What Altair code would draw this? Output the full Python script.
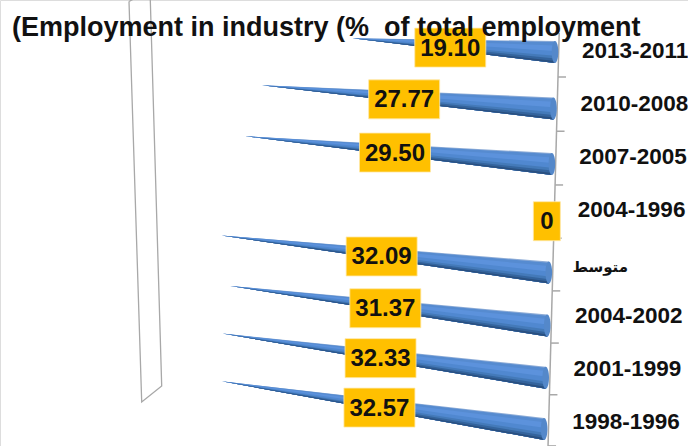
import altair as alt
import pandas as pd

# Employment in industry (% of total employment), by period
TITLE = "(Employment in industry (%\u00a0\u00a0of total employment"
PERIODS = ["2013-2011", "2010-2008", "2007-2005", "2004-1996", "متوسط",
           "2004-2002", "2001-1999", "1998-1996"]
VALUES = [19.10, 27.77, 29.50, 0, 32.09, 31.37, 32.33, 32.57]
LABELS = ["19.10", "27.77", "29.50", "0", "32.09", "31.37", "32.33", "32.57"]

# Shading bands across a cone: where each starts, from top edge to bottom edge
BAND_EDGES = [-1.0, -0.9, -0.6, -0.1, 0.35, 0.6, 0.82]
BAND_COLORS = ["#8cabd6", "#568bd0", "#5c92dc", "#5088d0", "#447ab9", "#34649d", "#2a5080"]

W, H = 688, 446
PX_PER_ROW = 54.0
ORIGIN_X, ORIGIN_Y = 555.0, 52.0
CONE_RADIUS = 11.0
PX_PER_UNIT = 10.3


# The chart is viewed in perspective: each row's base moves left, rows get
# closer together further down and bars fall away more steeply.
def base_x(row):
    return ORIGIN_X - 1.55 * row


def base_y(row):
    return ORIGIN_Y + 56.86 * row - 0.43 * row ** 2


def slope(row):
    return 0.068 + 0.0114 * row


def px_per_value(row):
    return 10.6 - 0.1 * row


def to_x(px):
    return (ORIGIN_X - px) / PX_PER_UNIT


def to_y(px):
    return (px - ORIGIN_Y) / PX_PER_ROW


def along(row, value):
    length = value * px_per_value(row)
    return base_x(row) - length, base_y(row) - slope(row) * length


# Cone bands: each strip runs down to the cone's lower edge and the next one
# paints over it, which keeps the joins free of seams
band_rows = []
cap_rows = []
for row, (period, value) in enumerate(zip(PERIODS, VALUES)):
    if value == 0:
        continue
    tip_x, tip_y = along(row, value)
    for band, (top, color) in enumerate(zip(BAND_EDGES, BAND_COLORS)):
        band_rows.append(dict(period=period, band=band, color=color, x=to_x(tip_x),
                              y=to_y(tip_y), y2=to_y(tip_y)))
        band_rows.append(dict(period=period, band=band, color=color, x=to_x(base_x(row)),
                              y=to_y(base_y(row) + top * CONE_RADIUS),
                              y2=to_y(base_y(row) + CONE_RADIUS)))
    cap_rows.append(dict(period=period, x=to_x(base_x(row)), y=to_y(base_y(row))))
bands = pd.DataFrame(band_rows)
caps = pd.DataFrame(cap_rows)

# Value boxes sit halfway along each bar
box_rows = []
for row, (period, value, label) in enumerate(zip(PERIODS, VALUES, LABELS)):
    mid_x, mid_y = along(row, value / 2)
    box_rows.append(dict(period=period, label=label, x=to_x(mid_x - 3.5), y=to_y(mid_y + 2.5)))
boxes = pd.DataFrame(box_rows)

# Category labels, left aligned to the right of the axis
name_rows = []
for row, period in enumerate(PERIODS):
    arabic = period == "متوسط"
    name_rows.append(dict(period=period, arabic=arabic,
                          x=to_x(582 - 1.4 * row - (4 if arabic else 0)),
                          y=to_y(50.5 + 53.1 * row + (4 if arabic else 0))))
names = pd.DataFrame(name_rows)


def axis_px(y):
    return 558 - 0.027 * (y - 77)


# Slanted category axis and its ticks
tick_ys = [77 + 54.5 * k - 0.257 * k ** 2 for k in range(len(PERIODS))]
ticks = pd.DataFrame([dict(x=to_x(axis_px(y)), x2=to_x(axis_px(y) + 8), y=to_y(y)) for y in tick_ys])
axis_line = pd.DataFrame([dict(x=to_x(axis_px(y)), y=to_y(y)) for y in (33, 446)])

# The narrow back wall standing at the far end of the value axis
wall_px = [(129, 1.5), (141.7, 402), (161.7, 386), (150, -10), (129, 1.5)]
wall = pd.DataFrame([dict(order=i, x=to_x(px), y=to_y(py)) for i, (px, py) in enumerate(wall_px)])

x_scale = alt.Scale(domain=[to_x(0), to_x(W)], nice=False, zero=False)
y_scale = alt.Scale(domain=[to_y(H), to_y(0)], nice=False, zero=False)
X = alt.X("x:Q", scale=x_scale, axis=None)
Y = alt.Y("y:Q", scale=y_scale, axis=None)
GREY = "#a8a8a8"
FONT = "Liberation Sans"

wall_layer = alt.Chart(wall).mark_line(color=GREY, strokeWidth=1.3, clip=True).encode(x=X, y=Y, order="order:Q")
axis_layer = alt.Chart(axis_line).mark_line(color=GREY, strokeWidth=1.5).encode(x=X, y=Y)
tick_layer = alt.Chart(ticks).mark_rule(color=GREY, strokeWidth=1.5).encode(x=X, x2="x2:Q", y=Y)

band_layer = alt.Chart(bands).mark_area(interpolate="linear", strokeWidth=0).encode(
    x=X, y=Y, y2="y2:Q",
    color=alt.Color("color:N", scale=None),
    detail=["period:N", "band:Q"],
)
cap_layer = alt.Chart(caps).mark_point(
    shape="M0,-1 A0.3,1 0 1,1 0,1 A0.3,1 0 1,1 0,-1 Z",
    filled=True, color="#5488ca", size=CONE_RADIUS ** 2 * 4, opacity=1,
).encode(x=X, y=Y)

box_wide = alt.Chart(boxes).transform_filter("datum.label !== '0'").mark_rect(
    width=71, height=39, color="#ffc000", stroke="#ffe9a8", strokeWidth=0.8).encode(x=X, y=Y)
box_narrow = alt.Chart(boxes).transform_filter("datum.label === '0'").mark_rect(
    width=27, height=39, color="#ffc000", stroke="#ffe9a8", strokeWidth=0.8).encode(x=X, y=Y)
box_text = alt.Chart(boxes).mark_text(
    font=FONT, fontWeight="bold", fontSize=24, color="#111111", baseline="middle", dy=1).encode(
    x=X, y=Y, text="label:N")

name_text = alt.Chart(names).transform_filter("!datum.arabic").mark_text(
    font=FONT, fontWeight="bold", fontSize=22.5, color="#111111", align="left", baseline="middle").encode(
    x=X, y=Y, text="period:N")
arabic_text = alt.Chart(names).transform_filter("datum.arabic").mark_text(
    font="DejaVu Sans", fontWeight="bold", fontSize=15, color="#111111", align="left", baseline="middle").encode(
    x=X, y=Y, text="period:N")

# The heading is painted last: it runs across the first value box
title_text = alt.Chart(pd.DataFrame({"title": [TITLE]})).mark_text(
    font=FONT, fontWeight="bold", fontSize=27, color="#111111", align="left", baseline="alphabetic").encode(
    x=alt.value(12), y=alt.value(36), text="title:N")

chart = alt.layer(
    wall_layer, axis_layer, tick_layer, band_layer, cap_layer,
    box_wide, box_narrow, box_text, name_text, arabic_text, title_text,
).properties(
    width=W, height=H, padding=0, autosize=alt.AutoSizeParams(type="none"),
).configure_view(stroke=None).configure(background="white")

chart.save("out.html", embed_options={"renderer": "svg", "actions": False})
